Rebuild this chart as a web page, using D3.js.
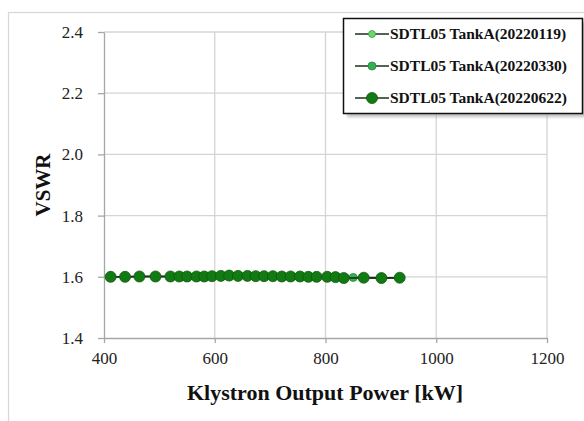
<!DOCTYPE html>
<html>
<head>
<meta charset="utf-8">
<script src="https://cdn.jsdelivr.net/npm/d3@7"></script>
<style>
  body { margin: 0; background: #fff; }
  svg { display: block; }
  svg text { font-family: "Liberation Serif", "DejaVu Serif", serif; }
</style>
</head>
<body>
<div id="wrapper"></div>
<script>
// data
const seriesNames = ["SDTL05 TankA(20220119)", "SDTL05 TankA(20220330)", "SDTL05 TankA(20220622)"];
const power0119 = [414, 440, 466, 495, 522, 538, 552, 569, 583, 597, 613, 628, 644, 661, 676, 691, 707, 723, 739, 756, 771, 786, 805, 820, 836, 871, 903, 936];
const vswr0119 = [1.600, 1.600, 1.601, 1.601, 1.601, 1.602, 1.602, 1.602, 1.602, 1.603, 1.604, 1.605, 1.604, 1.603, 1.603, 1.602, 1.602, 1.602, 1.601, 1.601, 1.601, 1.600, 1.600, 1.599, 1.598, 1.598, 1.597, 1.597];
const power0330 = [413, 439, 465, 494, 521, 537, 551, 568, 582, 596, 612, 627, 643, 660, 675, 690, 706, 722, 738, 755, 770, 785, 804, 819, 834, 850, 870, 902, 935];
const vswr0330 = [1.600, 1.600, 1.601, 1.601, 1.601, 1.602, 1.602, 1.602, 1.602, 1.603, 1.604, 1.605, 1.604, 1.604, 1.603, 1.603, 1.602, 1.602, 1.602, 1.601, 1.601, 1.600, 1.600, 1.599, 1.598, 1.598, 1.597, 1.596, 1.597];
const power0622 = [412, 438, 464, 493, 520, 536, 550, 567, 581, 595, 611, 626, 642, 659, 674, 689, 705, 721, 737, 754, 769, 784, 803, 818, 833, 869, 901, 934];
const vswr0622 = [1.600, 1.600, 1.601, 1.601, 1.601, 1.601, 1.601, 1.601, 1.601, 1.602, 1.603, 1.604, 1.603, 1.603, 1.602, 1.602, 1.602, 1.601, 1.601, 1.601, 1.600, 1.600, 1.600, 1.599, 1.596, 1.597, 1.596, 1.597];
const xTicks = [400, 600, 800, 1000, 1200];
const yTicks = [1.4, 1.6, 1.8, 2.0, 2.2, 2.4];

const series = [
    { name: seriesNames[0], x: power0119, y: vswr0119, fill: "#6fd66f", stroke: "#3aa23a", r: 3.5 },
    { name: seriesNames[1], x: power0330, y: vswr0330, fill: "#2fb24f", stroke: "#1f8a3a", r: 4 },
    { name: seriesNames[2], x: power0622, y: vswr0622, fill: "#127a12", stroke: "#0d5a0d", r: 5.5 },
];

const dimensions = {
    width: 584,
    height: 421,
    margin: { top: 32, right: 37, bottom: 83, left: 104 },
}
dimensions.boundedWidth = dimensions.width - dimensions.margin.left - dimensions.margin.right
dimensions.boundedHeight = dimensions.height - dimensions.margin.top - dimensions.margin.bottom

const serif = "Liberation Serif, DejaVu Serif, serif";

const wrapper = d3.select("#wrapper")
    .append("svg")
    .attr("width", dimensions.width)
    .attr("height", dimensions.height);

// outer chart frame
wrapper.append("rect")
    .attr("x", 8.5).attr("y", 12.5)
    .attr("width", 600).attr("height", 430)
    .attr("fill", "none")
    .attr("stroke", "#d6d6d6")
    .attr("stroke-width", 1.2);

const bounds = wrapper.append("g")
    .attr("transform", `translate(${dimensions.margin.left},${dimensions.margin.top})`);

const xScaler = d3.scaleLinear()
    .domain([400, 1200])
    .range([0, dimensions.boundedWidth]);

const yScaler = d3.scaleLinear()
    .domain([1.4, 2.4])
    .range([dimensions.boundedHeight, 0]);

// gridlines
bounds.append("g")
    .selectAll("line")
    .data(yTicks.slice(1))
    .enter().append("line")
    .attr("x1", 0).attr("x2", dimensions.boundedWidth)
    .attr("y1", d => yScaler(d)).attr("y2", d => yScaler(d))
    .attr("stroke", "#d4d4d4").attr("stroke-width", 1.3);

bounds.append("g")
    .selectAll("line")
    .data(xTicks.slice(1))
    .enter().append("line")
    .attr("y1", 0).attr("y2", dimensions.boundedHeight)
    .attr("x1", d => xScaler(d)).attr("x2", d => xScaler(d))
    .attr("stroke", "#d4d4d4").attr("stroke-width", 1.3);

// axes
const xAxisGen = d3.axisBottom(xScaler)
    .tickValues(xTicks)
    .tickSize(5)
    .tickPadding(9)
    .tickFormat(d3.format("d"))
    .tickSizeOuter(0);
const xAxis = bounds.append("g")
    .attr("transform", `translate(0,${dimensions.boundedHeight})`)
    .call(xAxisGen);

const yAxisGen = d3.axisLeft(yScaler)
    .tickValues(yTicks)
    .tickSize(6)
    .tickPadding(15)
    .tickFormat(d3.format(".1f"))
    .tickSizeOuter(0);
const yAxis = bounds.append("g")
    .call(yAxisGen);

[xAxis, yAxis].forEach(ax => {
    ax.attr("font-family", serif);
    ax.select(".domain").attr("stroke", "#a6a6a6").attr("stroke-width", 1.3);
    ax.selectAll(".tick line").attr("stroke", "#a6a6a6").attr("stroke-width", 1.3);
    ax.selectAll(".tick text")
        .attr("fill", "#222")
        .style("font-family", serif)
        .style("font-size", "17px");
});

// series lines and markers
const lineGen = (s) => d3.line()
    .x((d, i) => xScaler(s.x[i]))
    .y((d, i) => yScaler(s.y[i]));

series.forEach(s => {
    const g = bounds.append("g");
    g.append("path")
        .attr("d", lineGen(s)(s.x))
        .attr("fill", "none")
        .attr("stroke", "#1e2e1e")
        .attr("stroke-width", 1.5);
    g.selectAll("circle")
        .data(s.x)
        .enter().append("circle")
        .attr("cx", (d, i) => xScaler(s.x[i]))
        .attr("cy", (d, i) => yScaler(s.y[i]))
        .attr("r", s.r)
        .attr("fill", s.fill)
        .attr("stroke", s.stroke)
        .attr("stroke-width", 0.8);
});

// axis titles
wrapper.append("text")
    .attr("x", 325)
    .attr("y", 400)
    .text("Klystron Output Power [kW]")
    .attr("fill", "#111")
    .style("font-family", serif)
    .style("font-weight", "bold")
    .style("font-size", "22px")
    .attr("text-anchor", "middle");

wrapper.append("text")
    .attr("transform", `translate(50,${dimensions.margin.top + dimensions.boundedHeight / 2}) rotate(-90)`)
    .text("VSWR")
    .attr("fill", "#111")
    .style("font-family", serif)
    .style("font-weight", "bold")
    .style("font-size", "21px")
    .attr("text-anchor", "middle");

// legend
const legend = wrapper.append("g").attr("transform", "translate(343,18)");
legend.append("rect")
    .attr("x", 4).attr("y", 4)
    .attr("width", 239).attr("height", 95)
    .attr("fill", "#9a9a9a").attr("opacity", 0.6)
    .style("filter", "blur(1.5px)");
legend.append("rect")
    .attr("x", 0.5).attr("y", 0.5)
    .attr("width", 239).attr("height", 95)
    .attr("fill", "#fff")
    .attr("stroke", "#111")
    .attr("stroke-width", 1.5);

const legendItems = legend.selectAll("g.item")
    .data(series)
    .enter().append("g")
    .attr("class", "item")
    .attr("transform", (d, i) => `translate(0,${16 + i * 32})`);
legendItems.append("line")
    .attr("x1", 12).attr("x2", 46)
    .attr("stroke", "#1e2e1e").attr("stroke-width", 1.5);
legendItems.append("circle")
    .attr("cx", 29)
    .attr("r", d => d.r)
    .attr("fill", d => d.fill)
    .attr("stroke", d => d.stroke)
    .attr("stroke-width", 0.8);
legendItems.append("text")
    .attr("x", 47)
    .attr("dy", "0.35em")
    .text(d => d.name)
    .attr("fill", "#111")
    .style("font-family", serif)
    .style("font-weight", "bold")
    .style("font-size", "15.5px");
</script>
</body>
</html>
